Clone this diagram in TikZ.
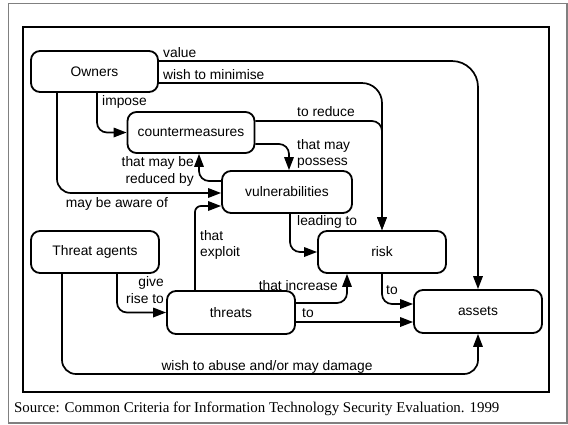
\documentclass[tikz,border=0pt]{standalone}
\usepackage{fontspec}
\setmainfont{Liberation Sans}
\newfontfamily\timesf{Liberation Serif}
\usetikzlibrary{arrows.meta}
\begin{document}
\begin{tikzpicture}[x=1pt,y=-1pt,
  box/.style={draw,line width=1.8pt,rounded corners=9pt,minimum width=127pt,minimum height=41pt,inner sep=0pt,font=\fontsize{13.8}{15}\selectfont},
  conn/.style={line width=1.7pt,-{Triangle[length=13pt,width=9.5pt]},rounded corners=10pt},
  lbl/.style={font=\fontsize{13.8}{15}\selectfont,inner sep=0pt}]
\useasboundingbox (0,0) rectangle (568,424);
\draw[gray,line width=1.2pt] (8.5,3.5) rectangle (567,423);
\draw[line width=1.1pt] (23,27) rectangle (549,392);

\node[box] (own) at (94.5,71.5) {Owners};
\node[box] (cm) at (191,132.5) {countermeasures};
\node[box,minimum width=130pt,minimum height=42pt] (vul) at (287,192) {vulnerabilities};
\node[box,minimum width=128pt,minimum height=42pt] (ta) at (95,252) {Threat agents};
\node[box,minimum width=128pt,minimum height=43pt] (thr) at (231,312.5) {threats};
\node[box,minimum width=128pt,minimum height=42pt] (risk) at (382,252) {risk};
\node[box,minimum width=128pt,minimum height=43pt] (ast) at (478,311.5) {assets};

% connectors
\draw[conn,rounded corners=26pt] (own.east |- 0,61) -| (ast.north);
\draw[conn,rounded corners=20pt] (own.east |- 0,83) -| (risk.north);
\draw[conn] (cm.east |- 0,121) -| (risk.north);
\draw[conn] (own.south -| 97,0) |- (cm.west);
\draw[conn,rounded corners=14pt] (own.south -| 57,0) |- (vul.west |- 0,193);
\draw[conn] (vul.west |- 0,181) -| (cm.south -| 199,0);
\draw[conn] (cm.east |- 0,144) -| (vul.north -| 289,0);
\draw[conn,rounded corners=6pt] (thr.north -| 195,0) |- (vul.west |- 0,206);
\draw[conn] (vul.south -| 290,0) |- (risk.west);
\draw[conn] (thr.east |- 0,303) -| (risk.south -| 347,0);
\draw[conn] (thr.east |- 0,322) -- (ast.west |- 0,322);
\draw[conn] (risk.south) |- (ast.west |- 0,304);
\draw[conn,rounded corners=14pt] (ta.south -| 62,0) |- (ast.south |- 0,374) -- (ast.south);
\draw[conn] (ta.south -| 117,0) |- (thr.west);

% labels
\node[lbl,anchor=base west] (l1) at (163,57.5) {value};
\node[lbl,anchor=base west] (l2) at (163,79) {wish to minimise};
\node[lbl,anchor=base west] (l3) at (297,116) {to reduce};
\node[lbl,anchor=base west] (l4) at (102,105) {impose};
\node[lbl,anchor=base east] (l5a) at (194,166) {that may be};
\node[lbl,anchor=base east] (l5b) at (194,183) {reduced by};
\node[lbl,anchor=base west] (l6a) at (297,149) {that may};
\node[lbl,anchor=base west] (l6b) at (297,165.5) {possess};
\node[lbl,anchor=base] (l7) at (117,207) {may be aware of};
\node[lbl,anchor=base west] (l8a) at (200,240) {that};
\node[lbl,anchor=base west] (l8b) at (200,256) {exploit};
\node[lbl,anchor=base west] (l9) at (297,225) {leading to};
\node[lbl,anchor=base east] (l10) at (338,290) {that increase};
\node[lbl,anchor=base west] (l11) at (302,317) {to};
\node[lbl,anchor=base west] (l12) at (386,294) {to};
\node[lbl,anchor=base] (l13) at (267,370) {wish to abuse and/or may damage};
\node[lbl,anchor=base east] (l14a) at (164,286) {give};
\node[lbl,anchor=base east] (l14b) at (164,303) {rise to};

\node[anchor=base west,inner sep=0pt,font=\timesf\fontsize{14.9}{16}\selectfont] (src) at (14,412) {Source: Common Criteria for Information Technology Security Evaluation. 1999};
\end{tikzpicture}
\end{document}
